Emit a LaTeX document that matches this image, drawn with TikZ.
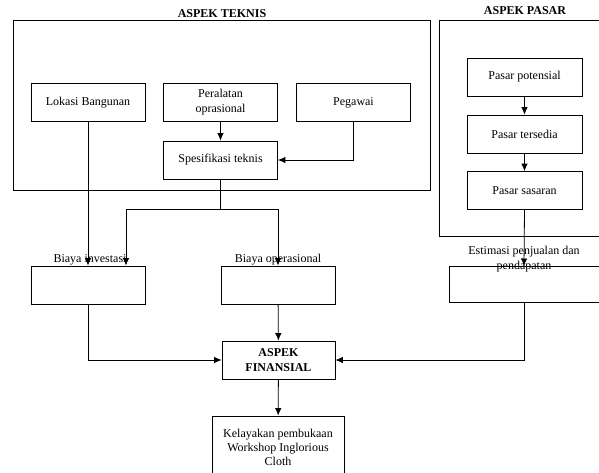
\documentclass[tikz,border=0pt]{standalone}
\usepackage{fontspec}
\setmainfont{Liberation Serif}
\usepackage{tikz}
\usetikzlibrary{arrows.meta}
\tikzset{box/.style={draw, thick, align=center, inner sep=1pt, minimum width=114pt, minimum height=38pt, font=\fontsize{12}{15}\selectfont},
  lbl/.style={align=center, inner sep=0pt, font=\fontsize{12}{15}\selectfont},
  title/.style={inner sep=0pt, font=\fontsize{12}{15}\selectfont\bfseries},
  arr/.style={thick, -{Latex[length=7.5pt,width=6.5pt]}}}

\begin{document}
\begin{tikzpicture}[x=1pt, y=-1pt]
  \useasboundingbox (0, 0) rectangle (599, 472);

  % kotak besar
  \node[draw, thick, minimum width=417pt, minimum height=170pt] (teknis) at (221.5, 105) {};
  \node[title] (tteknis) at (222, 14) {ASPEK TEKNIS};
  \node[draw, thick, minimum width=170pt, minimum height=216pt] (pasar) at (524, 128) {};
  \node[title] (tpasar) at (525, 11) {ASPEK PASAR};

  % aspek teknis
  \node[box] at (88, 102.5) (lokasi) {Lokasi Bangunan};
  \node[box] at (220.5, 102.5) (peralatan) {Peralatan\\oprasional};
  \node[box] at (353.5, 102.5) (pegawai) {Pegawai};
  \node[box] at (220.5, 160) (spesifikasi) {Spesifikasi teknis};

  % aspek pasar
  \node[box, minimum width=115pt] at (524.5, 77) (potensial) {Pasar potensial};
  \node[box, minimum width=115pt] at (524.5, 134) (tersedia) {Pasar tersedia};
  \node[box, minimum width=115pt] at (524.5, 190.5) (sasaran) {Pasar sasaran};

  % biaya
  \node[box] at (88, 285) (investasi) {};
  \node[lbl] at (90, 260) (linvestasi) {Biaya investasi};
  \node[box] at (278, 285) (operasional) {};
  \node[lbl] at (278, 260) (loperasional) {Biaya operasional};
  \node[box, minimum width=160pt, minimum height=36pt] at (529, 284) (estimasi) {};
  \node[lbl] at (524, 259) (lestimasi) {Estimasi penjualan dan\\pendapatan};

  \node[box, minimum width=113pt, font=\fontsize{12}{15}\selectfont\bfseries] at (278.5, 360) (finansial) {ASPEK\\FINANSIAL};
  \node[box, minimum width=132pt, minimum height=62pt, font=\fontsize{12}{14}\selectfont] at (278, 447) (kelayakan) {Kelayakan pembukaan\\Workshop Inglorious\\Cloth};

  % penghubung
  \coordinate (split) at (220.5, 209);
  \coordinate (keluar) at (524, 266);
  \draw[arr] (peralatan) -- (spesifikasi);
  \draw[arr] (pegawai) |- (spesifikasi);
  \draw[arr] (lokasi) -- (investasi);
  \draw[thick] (spesifikasi) -- (split);
  \draw[arr] (split) -| ([xshift=38pt]investasi.north);
  \draw[arr] (split) -| (operasional);

  \draw[arr] (potensial) -- (tersedia);
  \draw[arr] (tersedia) -- (sasaran);
  \draw[arr] (sasaran.south) -- (keluar);

  \draw[arr] (investasi) |- (finansial);
  \draw[arr] (operasional) -- (finansial);
  \draw[arr] (sasaran.south |- estimasi.south) |- (finansial);
  \draw[arr] (finansial) -- (kelayakan);
\end{tikzpicture}
\end{document}
